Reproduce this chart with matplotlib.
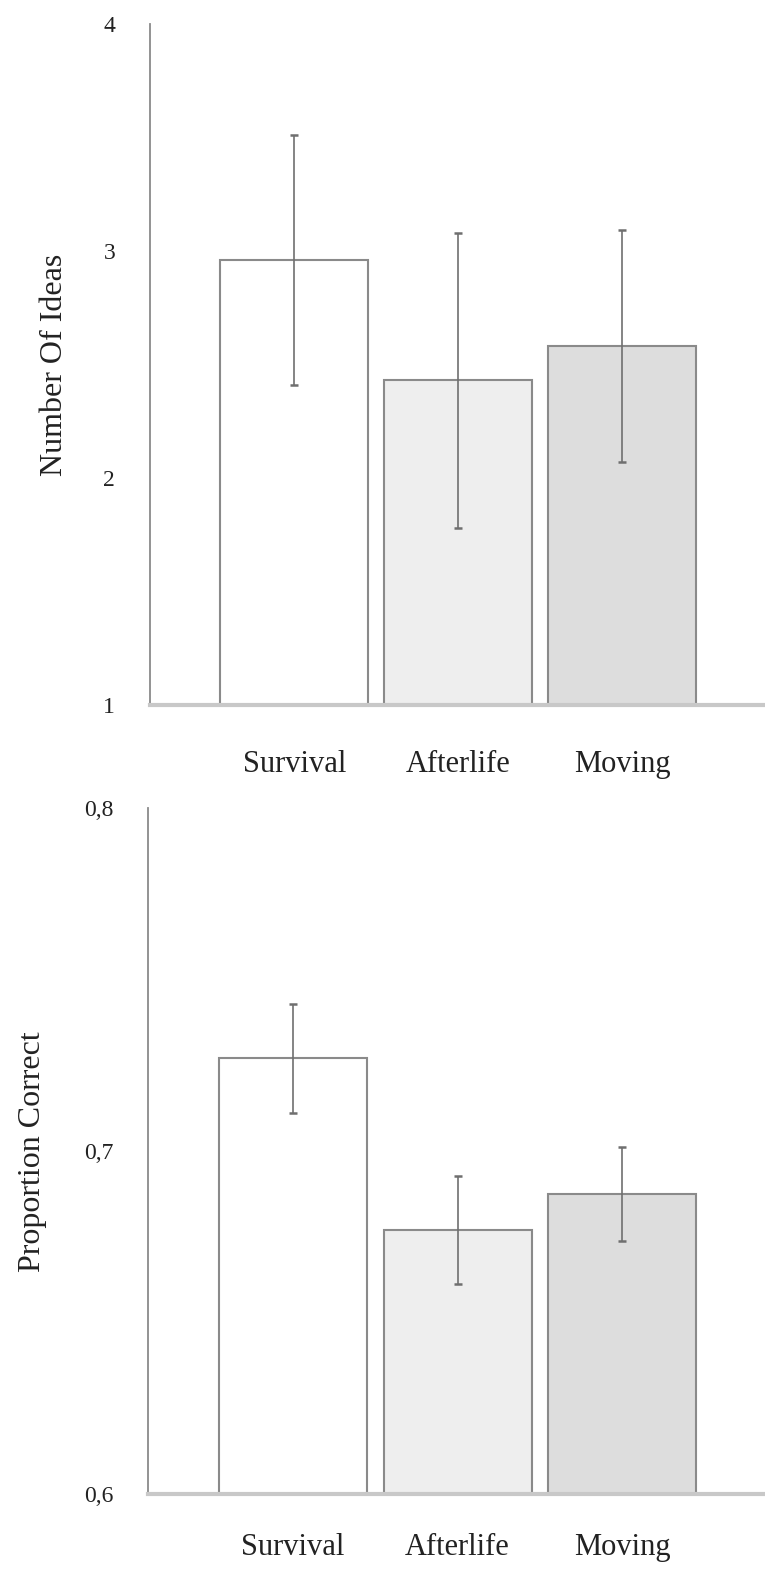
import matplotlib.pyplot as plt

plt.rcParams["font.family"] = ["Liberation Serif", "DejaVu Serif"]

conditions = ["Survival", "Afterlife", "Moving"]
bar_colors = ["#ffffff", "#eeeeee", "#dddddd"]

# Number of ideas
ideas_mean = [2.96, 2.43, 2.58]
ideas_err = [0.55, 0.65, 0.51]
ideas_ticks = [1, 2, 3, 4]
ideas_ticklabels = ["1", "2", "3", "4"]

# Proportion correct
correct_mean = [0.727, 0.677, 0.6875]
correct_err = [0.016, 0.0157, 0.0137]
correct_ticks = [0.6, 0.7, 0.8]
correct_ticklabels = ["0,6", "0,7", "0,8"]


def draw_panel(ax, means, errs, ticks, ticklabels, ylabel, label_x, xpad):
    x = range(len(conditions))
    ax.bar(x, [m - ticks[0] for m in means], bottom=ticks[0], width=0.9,
           color=bar_colors, edgecolor="#8a8a8a", linewidth=1.5)
    ax.errorbar(x, means, yerr=errs, fmt="none", ecolor="#6f6f6f",
                elinewidth=1.2, capsize=3, capthick=1.8)
    ax.set_xlim(-0.88, 2.87)
    ax.set_ylim(ticks[0], ticks[-1])
    ax.set_yticks(ticks)
    ax.set_yticklabels(ticklabels, fontsize=17, color="#222222")
    ax.set_xticks(list(x))
    ax.set_xticklabels(conditions, fontsize=22, color="#222222")
    ax.tick_params(axis="y", length=0, pad=25)
    ax.tick_params(axis="x", length=0, pad=xpad)
    ax.set_ylabel(ylabel, fontsize=23, color="#222222")
    ax.yaxis.set_label_coords(label_x, 0.5)
    for side in ["top", "right"]:
        ax.spines[side].set_visible(False)
    ax.spines["left"].set_color("#8a8a8a")
    ax.spines["left"].set_linewidth(1.3)
    ax.spines["bottom"].set_color("#c8c8c8")
    ax.spines["bottom"].set_linewidth(3)


fig = plt.figure(figsize=(7.65, 15.78), dpi=100)
ax1 = fig.add_axes([0.196, 0.553, 0.804, 0.432])
ax2 = fig.add_axes([0.194, 0.053, 0.806, 0.435])

draw_panel(ax1, ideas_mean, ideas_err, ideas_ticks, ideas_ticklabels,
           "Number Of Ideas", -0.132, 32)
draw_panel(ax2, correct_mean, correct_err, correct_ticks, correct_ticklabels,
           "Proportion Correct", -0.165, 28)

fig.savefig("out.png", dpi=100)
